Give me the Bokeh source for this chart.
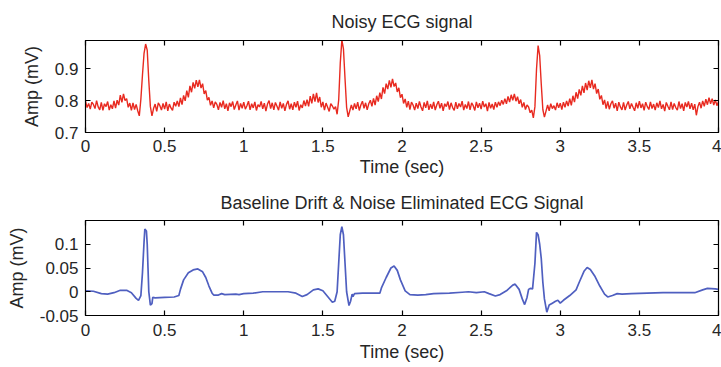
from bokeh.plotting import figure
from bokeh.layouts import column
from bokeh.models import FixedTicker, LinearAxis, Range1d
from bokeh.embed import file_html
from bokeh.resources import INLINE

# ---------------- data ----------------
noisy_step = 0.01
noisy_amp = [
    0.798, 0.778, 0.791, 0.773, 0.795, 0.788, 0.775, 0.800, 0.780, 0.771,
    0.794, 0.769, 0.790, 0.781, 0.797, 0.770, 0.787, 0.774, 0.799, 0.776,
    0.801, 0.786, 0.817, 0.794, 0.821, 0.800, 0.806, 0.779, 0.792, 0.769,
    0.793, 0.772, 0.788, 0.768, 0.752, 0.805, 0.880, 0.948, 0.977, 0.958,
    0.862, 0.781, 0.752, 0.775, 0.789, 0.766, 0.793, 0.784, 0.770, 0.791,
    0.773, 0.796, 0.768, 0.789, 0.777, 0.769, 0.795, 0.782, 0.799, 0.781,
    0.808, 0.787, 0.816, 0.799, 0.831, 0.810, 0.846, 0.826, 0.857, 0.838,
    0.864, 0.843, 0.865, 0.839, 0.853, 0.821, 0.831, 0.801, 0.810, 0.785,
    0.799, 0.777, 0.796, 0.788, 0.771, 0.794, 0.779, 0.800, 0.774, 0.790,
    0.768, 0.793, 0.781, 0.797, 0.772, 0.786, 0.799, 0.770, 0.791, 0.776,
    0.795, 0.773, 0.784, 0.798, 0.771, 0.790, 0.777, 0.796, 0.769, 0.787,
    0.780, 0.797, 0.774, 0.792, 0.767, 0.789, 0.800, 0.775, 0.793, 0.771,
    0.794, 0.782, 0.770, 0.796, 0.776, 0.791, 0.768, 0.788, 0.799, 0.773,
    0.790, 0.771, 0.795, 0.779, 0.798, 0.769, 0.787, 0.777, 0.800, 0.783,
    0.803, 0.782, 0.814, 0.791, 0.821, 0.797, 0.824, 0.794, 0.811, 0.779,
    0.796, 0.770, 0.792, 0.779, 0.766, 0.790, 0.783, 0.773, 0.781, 0.757,
    0.802, 0.918, 0.990, 0.962, 0.868, 0.779, 0.749, 0.768, 0.786, 0.770,
    0.791, 0.774, 0.795, 0.769, 0.786, 0.798, 0.776, 0.793, 0.771, 0.790,
    0.801, 0.782, 0.807, 0.786, 0.815, 0.797, 0.825, 0.805, 0.841, 0.822,
    0.853, 0.836, 0.863, 0.841, 0.868, 0.844, 0.855, 0.827, 0.840, 0.809,
    0.820, 0.791, 0.805, 0.779, 0.798, 0.772, 0.795, 0.786, 0.770, 0.792,
    0.775, 0.797, 0.780, 0.768, 0.794, 0.777, 0.799, 0.771, 0.789, 0.774,
    0.796, 0.770, 0.787, 0.798, 0.776, 0.792, 0.768, 0.790, 0.781, 0.797,
    0.772, 0.793, 0.778, 0.769, 0.795, 0.774, 0.791, 0.780, 0.798, 0.770,
    0.788, 0.775, 0.797, 0.771, 0.793, 0.784, 0.769, 0.796, 0.777, 0.792,
    0.773, 0.798, 0.780, 0.790, 0.767, 0.794, 0.776, 0.789, 0.772, 0.795,
    0.779, 0.796, 0.784, 0.801, 0.788, 0.806, 0.790, 0.813, 0.795, 0.818,
    0.801, 0.821, 0.798, 0.812, 0.790, 0.803, 0.779, 0.794, 0.772, 0.786,
    0.780, 0.762, 0.770, 0.746, 0.781, 0.898, 0.972, 0.941, 0.852, 0.772,
    0.748, 0.767, 0.786, 0.768, 0.790, 0.775, 0.784, 0.770, 0.793, 0.777,
    0.792, 0.772, 0.795, 0.779, 0.799, 0.783, 0.806, 0.785, 0.815, 0.795,
    0.826, 0.806, 0.835, 0.816, 0.846, 0.824, 0.855, 0.833, 0.862, 0.840,
    0.865, 0.836, 0.853, 0.822, 0.836, 0.804, 0.816, 0.787, 0.802, 0.775,
    0.797, 0.773, 0.790, 0.799, 0.776, 0.792, 0.768, 0.795, 0.780, 0.771,
    0.794, 0.770, 0.786, 0.797, 0.774, 0.791, 0.779, 0.768, 0.793, 0.776,
    0.798, 0.777, 0.790, 0.769, 0.795, 0.781, 0.772, 0.796, 0.775, 0.789,
    0.770, 0.793, 0.778, 0.799, 0.774, 0.788, 0.767, 0.794, 0.782, 0.771,
    0.796, 0.772, 0.791, 0.778, 0.770, 0.797, 0.775, 0.790, 0.768, 0.794,
    0.780, 0.797, 0.774, 0.792, 0.771, 0.789, 0.754, 0.781, 0.795, 0.776,
    0.799, 0.782, 0.804, 0.787, 0.809, 0.790, 0.806, 0.786, 0.802, 0.784,
    0.796,
]
noisy_time = [round(i * noisy_step, 2) for i in range(len(noisy_amp))]

# Filtered ECG (time in s, amplitude in mV)
clean_time = [
    0.00, 0.05, 0.10, 0.14, 0.18, 0.22, 0.26, 0.29, 0.32, 0.335,
    0.35, 0.36, 0.37, 0.375, 0.385, 0.39, 0.395, 0.40, 0.41, 0.42,
    0.425, 0.44, 0.50, 0.56, 0.59, 0.60, 0.62, 0.65, 0.68, 0.71,
    0.74, 0.76, 0.78, 0.80, 0.81, 0.84, 0.86, 0.88, 0.95, 0.97,
    1.00, 1.06, 1.12, 1.20, 1.28, 1.33, 1.37, 1.40, 1.44, 1.47,
    1.50, 1.53, 1.56, 1.575, 1.59, 1.60, 1.61, 1.62, 1.63, 1.64,
    1.65, 1.665, 1.675, 1.685, 1.69, 1.70, 1.75, 1.80, 1.86, 1.87,
    1.90, 1.93, 1.95, 1.97, 1.99, 2.02, 2.05, 2.10, 2.15, 2.20,
    2.30, 2.38, 2.42, 2.47, 2.52, 2.55, 2.59, 2.62, 2.66, 2.70,
    2.715, 2.74, 2.76, 2.775, 2.79, 2.80, 2.81, 2.825, 2.84, 2.85,
    2.86, 2.87, 2.88, 2.89, 2.90, 2.915, 2.93, 2.95, 2.97, 2.985,
    3.00, 3.02, 3.06, 3.10, 3.12, 3.15, 3.17, 3.19, 3.22, 3.25,
    3.28, 3.30, 3.33, 3.36, 3.39, 3.45, 3.55, 3.65, 3.75, 3.85,
    3.90, 3.93, 3.98, 4.00,
]
clean_amp = [
    0.002, 0.001, -0.004, -0.005, -0.002, 0.003, 0.003, -0.002, -0.014, -0.018,
    -0.008, 0.040, 0.105, 0.132, 0.128, 0.100, 0.050, 0.000, -0.028, -0.025,
    -0.012, -0.013, -0.012, -0.011, -0.008, 0.005, 0.025, 0.040, 0.046, 0.048,
    0.042, 0.030, 0.012, -0.003, -0.007, -0.007, -0.004, -0.006, -0.005, -0.006,
    -0.004, -0.003, 0.000, 0.000, 0.000, -0.003, -0.010, -0.006, 0.004, 0.006,
    0.002, -0.010, -0.022, -0.020, 0.000, 0.060, 0.120, 0.137, 0.120, 0.060,
    0.000, -0.029, -0.020, -0.005, -0.010, -0.004, -0.003, -0.003, -0.003, 0.008,
    0.030, 0.050, 0.054, 0.045, 0.025, 0.002, -0.006, -0.007, -0.006, -0.004,
    -0.003, -0.001, 0.000, -0.002, 0.000, -0.004, -0.009, -0.006, 0.002, 0.014,
    0.016, 0.005, -0.015, -0.027, -0.012, 0.005, 0.007, 0.006, 0.060, 0.125,
    0.120, 0.100, 0.070, 0.020, -0.015, -0.043, -0.028, -0.024, -0.020, -0.018,
    -0.024, -0.018, -0.008, 0.004, 0.020, 0.043, 0.051, 0.047, 0.032, 0.012,
    -0.005, -0.011, -0.008, -0.004, -0.005, -0.004, -0.003, -0.002, -0.002, -0.002,
    0.004, 0.007, 0.006, 0.005,
]

x_ticks = [0, 0.5, 1, 1.5, 2, 2.5, 3, 3.5, 4]
x_tick_labels = ["0", "0.5", "1", "1.5", "2", "2.5", "3", "3.5", "4"]
top_y_ticks = [0.7, 0.8, 0.9]
top_y_labels = ["0.7", "0.8", "0.9"]
bottom_y_ticks = [-0.05, 0, 0.05, 0.1]
bottom_y_labels = ["-0.05", "0", "0.05", "0.1"]

top_title = "Noisy ECG signal"
bottom_title = "Baseline Drift & Noise Eliminated ECG Signal"
x_label = "Time (sec)"
y_label = "Amp (mV)"

# ---------------- styling ----------------
FONT = "Liberation Sans"
TXT = "#262626"
RED = "#e82a20"
BLUE = "#4f5fc0"


def make_fig(height, y0, y1, yticks, ylabels, title, title_standoff,
             top_border, bottom_border, xlab_standoff, xaxis_label_standoff):
    p = figure(width=721, height=height, output_backend="svg", toolbar_location=None,
               x_range=Range1d(0, 4), y_range=Range1d(y0, y1),
               min_border_left=85, min_border_right=3, min_border_top=top_border,
               min_border_bottom=bottom_border)
    p.title.text = title
    p.title.align = "center"
    p.title.text_font = FONT
    p.title.text_font_size = "18px"
    p.title.text_font_style = "normal"
    p.title.text_color = TXT
    p.title.standoff = title_standoff
    p.grid.visible = False
    p.outline_line_color = "black"
    p.outline_line_width = 1.2
    p.background_fill_color = "white"
    p.border_fill_color = "white"

    xa = p.xaxis[0]
    xa.ticker = FixedTicker(ticks=x_ticks)
    xa.major_label_overrides = {t: l for t, l in zip(x_ticks, x_tick_labels)}
    xa.axis_label = x_label
    ya = p.yaxis[0]
    ya.ticker = FixedTicker(ticks=yticks)
    ya.major_label_overrides = {t: l for t, l in zip(yticks, ylabels)}
    ya.axis_label = y_label
    for ax in (xa, ya):
        ax.major_tick_in = 5
        ax.major_tick_out = 0
        ax.minor_tick_line_color = None
        ax.axis_line_color = "black"
        ax.major_tick_line_color = "black"
        ax.major_tick_line_width = 1.2
        ax.major_label_text_font = FONT
        ax.major_label_text_font_size = "17px"
        ax.major_label_text_color = TXT
        ax.axis_label_text_font = FONT
        ax.axis_label_text_font_size = "18px"
        ax.axis_label_text_font_style = "normal"
        ax.axis_label_text_color = TXT
    xa.major_label_standoff = xlab_standoff
    xa.axis_label_standoff = xaxis_label_standoff
    ya.major_label_standoff = 7
    ya.axis_label_standoff = 10

    # mirrored tick marks (no labels) on top and right
    top = LinearAxis(ticker=FixedTicker(ticks=x_ticks))
    top.major_label_overrides = {t: "" for t in x_ticks}
    right = LinearAxis(ticker=FixedTicker(ticks=yticks))
    right.major_label_overrides = {t: "" for t in yticks}
    for ax in (top, right):
        ax.major_tick_in = 5
        ax.major_tick_out = 0
        ax.minor_tick_line_color = None
        ax.axis_line_color = "black"
        ax.major_tick_line_color = "black"
        ax.major_tick_line_width = 1.2
        ax.major_label_text_font_size = "0px"
        ax.major_label_standoff = 0
    p.add_layout(top, "above")
    p.add_layout(right, "right")
    return p


p1 = make_fig(182, 0.7, 0.988, top_y_ticks, top_y_labels, top_title, 18, 40, 50, 7, 2)
p1.line(noisy_time, noisy_amp, line_color=RED, line_width=1.4)

p2 = make_fig(185, -0.05, 0.15, bottom_y_ticks, bottom_y_labels, bottom_title, 15, 38, 52, 8, 3)
p2.line(clean_time, clean_amp, line_color=BLUE, line_width=1.7)

layout = column(p1, p2, spacing=0)

open("out.html", "w").write(file_html(layout, INLINE))
